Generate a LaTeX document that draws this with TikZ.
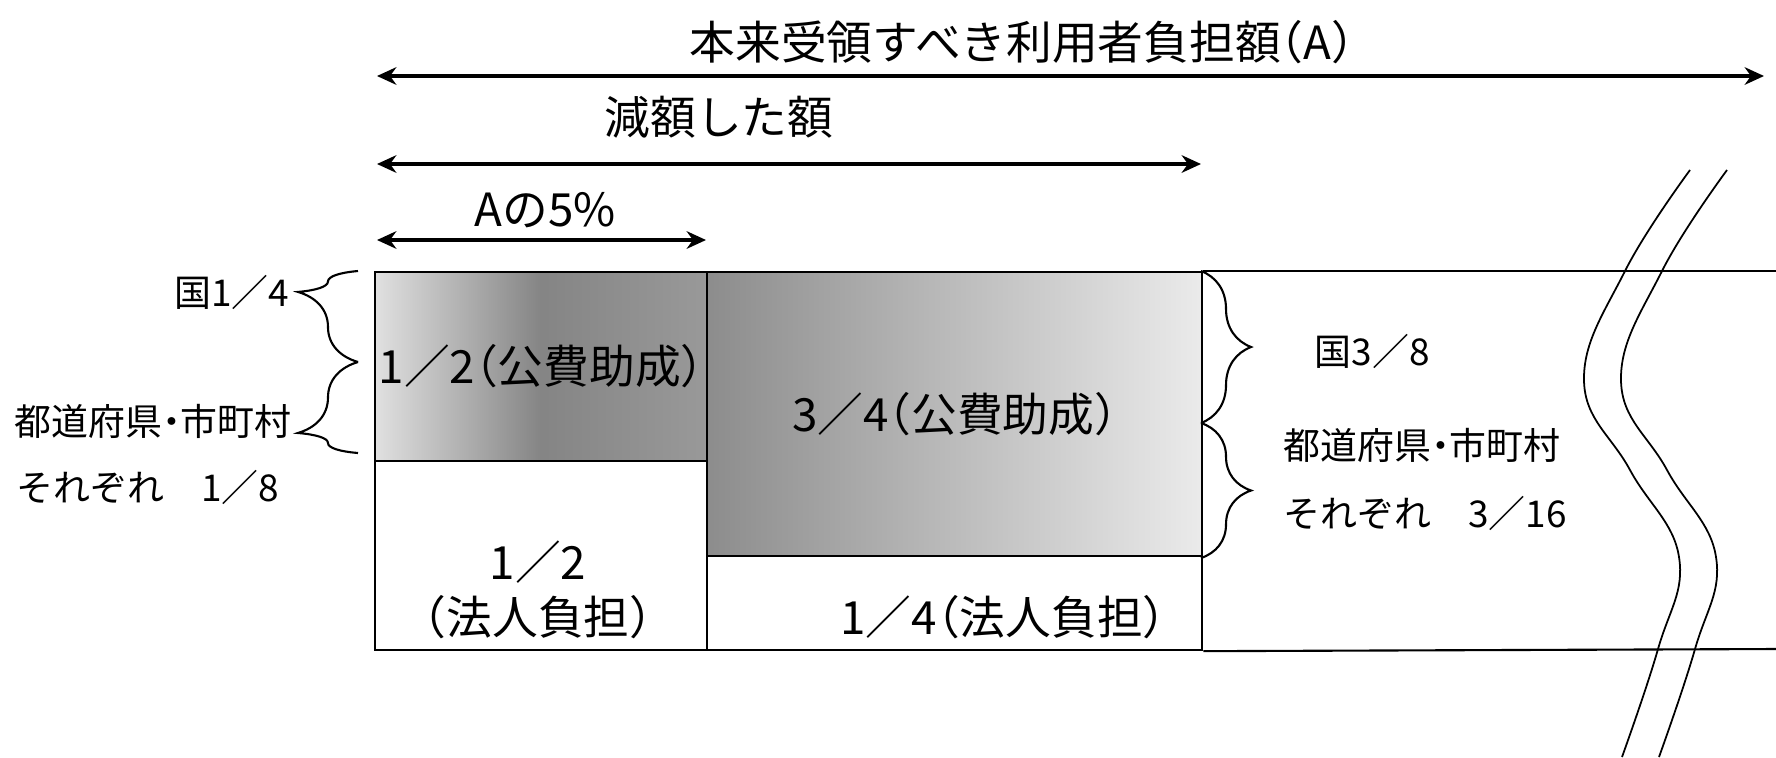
\documentclass[tikz,border=0pt]{standalone}
\usepackage{fontspec}
\setmainfont{Noto Sans CJK JP}
\newfontfamily\halfw[CharacterWidth=AlternateHalf]{Noto Sans CJK JP}
\newcommand{\lpar}{{\halfw （}}
\newcommand{\rpar}{{\halfw ）}}
\newcommand{\nakaguro}{{\halfw ・}}
\usetikzlibrary{positioning,arrows.meta,decorations.pathreplacing}

\begin{document}
\begin{tikzpicture}[x=0.01cm, y=-0.01cm,
  cell/.style={draw, line width=0.6pt, anchor=north west, inner sep=0pt},
  big/.style={font=\fontsize{13pt}{15.5pt}\selectfont, align=center, inner sep=0pt},
  side/.style={font=\fontsize{10.5pt}{13pt}\selectfont, inner sep=0pt},
  dim/.style={<->, line width=0.9pt},
  brc/.style={decorate, decoration={brace, amplitude=0.6cm}, line width=0.6pt},
  >={Stealth[length=5.5pt, width=5pt]}]
  \useasboundingbox (0,0) rectangle (1776,757);

  % shares of the amount
  \node[cell, big, minimum width=3.32cm, minimum height=1.89cm,
    left color=black!12, right color=black!40, middle color=black!48] (kouhi1) at (374,271) {1／2\lpar 公費助成\rpar};
  \node[cell, big, minimum width=4.95cm, minimum height=2.84cm,
    left color=black!45, right color=black!8] (kouhi2) at (706,271) {3／4\lpar 公費助成\rpar};
  \node[cell, minimum width=3.32cm, minimum height=1.89cm] (houjin1) at (374,460) {};
  \node[cell, minimum width=4.95cm, minimum height=0.94cm] (houjin2) at (706,555) {};
  \node[big] (houjin1txt) at (538,590) {1／2\\\lpar 法人負担\rpar};
  \node[big] (houjin2txt) at (1003,617) {1／4\lpar 法人負担\rpar};
  \coordinate (edgeT) at (1776,271);
  \coordinate (edgeB) at (1776,649);
  \draw[line width=0.6pt] (kouhi2.north east) -- (edgeT);
  \draw[line width=0.6pt] (houjin2.south east) -- (edgeB);

  % dimension lines
  \coordinate (totalL) at (377,76);
  \coordinate (totalR) at (1764,76);
  \coordinate (genL) at (377,164);
  \coordinate (genR) at (1201,164);
  \coordinate (fiveL) at (377,240);
  \coordinate (fiveR) at (706,240);
  \node[big] (total) at (1022,42) {本来受領すべき利用者負担額\lpar A\rpar};
  \node[big] (gen) at (719,117) {減額した額};
  \node[big] (five) at (545,210) {Aの5\%};
  \draw[dim] (totalL) -- (totalR);
  \draw[dim] (genL) -- (genR);
  \draw[dim] (fiveL) -- (fiveR);

  % braces and who pays
  \coordinate (lb0) at (358,271);
  \coordinate (lb1) at (358,362);
  \coordinate (lb2) at (358,453);
  \coordinate (rb0) at (1201,271);
  \coordinate (rb1) at (1201,423);
  \coordinate (rb2) at (1201,558);
  \draw[brc, decoration={aspect=0.77}] (lb1) -- (lb0);
  \draw[brc, decoration={aspect=0.22}] (lb2) -- (lb1);
  \draw[brc, decoration={amplitude=0.5cm}] (rb0) -- (rb1);
  \draw[brc, decoration={amplitude=0.5cm}] (rb1) -- (rb2);
  \node[side, anchor=east] (kuni1) at (290,292) {国1／4};
  \node[side, anchor=west] (pref1) at (14,421) {都道府県\nakaguro 市町村};
  \node[side, anchor=west] (each1) at (16,487) {それぞれ　1／8};
  \node[side, anchor=west] (kuni2) at (1314,351) {国3／8};
  \node[side, anchor=west] (pref2) at (1283,445) {都道府県\nakaguro 市町村};
  \node[side, anchor=west] (each2) at (1283,513) {それぞれ　3／16};

  % break mark
  \foreach \dx in {0,37}
    \draw[line width=0.5pt, shift={(\dx,0)}] plot[smooth, tension=0.7] coordinates
      {(1690,170) (1625,271) (1584,381) (1630,470) (1679,557) (1658,649) (1622,757)};
\end{tikzpicture}
\end{document}
